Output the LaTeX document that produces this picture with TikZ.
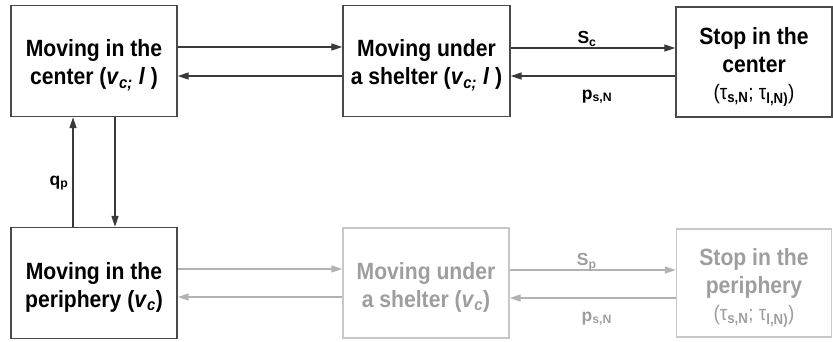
\documentclass[tikz,border=0pt]{standalone}
\usepackage{fontspec}
\setmainfont{Liberation Sans}[FakeStretch=0.9]
\newfontfamily\labelfont{Liberation Sans}
\usetikzlibrary{arrows.meta}

\definecolor{darkline}{HTML}{3A3A3A}
\definecolor{darkframe}{HTML}{4A4A4A}
\definecolor{paleline}{HTML}{B2B2B2}
\definecolor{paletext}{HTML}{9E9E9E}
\definecolor{paleframe}{HTML}{C8C8C8}

% helpers for the small subscripts and the italic speed symbols
\newcommand{\sbs}[1]{\textsubscript{#1}}
\newcommand{\spd}[1]{\textit{v}\textsubscript{\textit{#1}}}
\newcommand{\tauline}[2]{{\fontsize{21}{27}\selectfont\mdseries(τ\sbs{\bfseries #1}; τ\sbs{\bfseries #2})}}

\tikzset{
  state/.style={draw=darkframe, line width=1.4pt, inner sep=0pt},
  pale/.style={draw=paleframe},
  boxtext/.style={align=center, text=black, inner sep=0pt,
    font=\fontsize{23.5}{28}\selectfont\bfseries},
  paletxt/.style={text=paletext},
  flow/.style={-{Triangle[length=11pt,width=7pt]}, draw=darkline, line width=1.2pt},
  paleflow/.style={flow, draw=paleline},
  lbl/.style={font=\labelfont\fontsize{17.5}{20}\selectfont\bfseries, text=black,
    inner sep=0pt, anchor=base},
  palelbl/.style={lbl, text=paletext}
}

\begin{document}
\begin{tikzpicture}[x=1pt, y=-1pt]
\useasboundingbox (0,0) rectangle (833,341);

% upper row: movement in the center
\node[state, minimum width=166pt, minimum height=111pt] (A) at (94,61) {};
\node[state, minimum width=167pt, minimum height=111pt] (B) at (426.5,61) {};
\node[state, minimum width=156pt, minimum height=110pt] (C) at (754,62) {};
\node[boxtext] (At) at ([yshift=-4pt]A.center)
  {Moving in the\\center (\spd{c;} \textit{l} )};
\node[boxtext] (Bt) at ([yshift=-4pt]B.center)
  {Moving under\\a shelter (\spd{c;} \textit{l} )};
\node[boxtext] (Ct) at ([yshift=-5pt]C.center)
  {Stop in the\\center\\[-1pt]\tauline{s,N}{l,N)}};

% lower row: movement in the periphery
\node[state, minimum width=166pt, minimum height=111pt] (D) at (94,283) {};
\node[state, pale, minimum width=166pt, minimum height=110pt] (E) at (426,283) {};
\node[state, pale, minimum width=155pt, minimum height=108pt] (F) at (754,283) {};
\node[boxtext] (Dt) at ([yshift=-4pt]D.center)
  {Moving in the\\periphery (\spd{c})};
\node[boxtext, paletxt] (Et) at ([yshift=-4pt]E.center)
  {Moving under\\a shelter (\spd{c})};
\node[boxtext, paletxt] (Ft) at ([yshift=-5pt]F.center)
  {Stop in the\\periphery\\[-1pt]\tauline{s,N}{l,N)}};

% upper row transitions
\draw[flow] ([yshift=14pt]A.east) -- ([yshift=14pt]A.east -| B.west);
\draw[flow] ([yshift=-15pt]B.west) -- ([yshift=-15pt]B.west -| A.east);
\draw[flow] ([yshift=13pt]B.east) -- ([yshift=13pt]B.east -| C.west)
  node[lbl, midway, yshift=4.5pt, xshift=-6pt] (Sc) {S\sbs{c}};
\draw[flow] ([yshift=-15pt]C.west |- B.east) -- ([yshift=-15pt]B.east)
  node[lbl, midway, yshift=-23pt, xshift=4pt] (pc) {p\sbs{s,N}};

% switching between center and periphery
\draw[flow] ([xshift=-21pt]D.north) -- ([xshift=-21pt]D.north |- A.south)
  node[lbl, pos=0.38, anchor=base east, xshift=-4pt] (qp) {q\sbs{p}};
\draw[flow] ([xshift=21pt]A.south) -- ([xshift=21pt]A.south |- D.north);

% lower row transitions
\draw[paleflow] ([yshift=14pt]D.east) -- ([yshift=14pt]D.east -| E.west);
\draw[paleflow] ([yshift=-14pt]E.west) -- ([yshift=-14pt]E.west -| D.east);
\draw[paleflow] ([yshift=13pt]E.east) -- ([yshift=13pt]E.east -| F.west)
  node[palelbl, midway, yshift=4.5pt, xshift=-6pt] (Sp) {S\sbs{p}};
\draw[paleflow] ([yshift=-15pt]F.west |- E.east) -- ([yshift=-15pt]E.east)
  node[palelbl, midway, yshift=-23pt, xshift=4pt] (pp) {p\sbs{s,N}};
\end{tikzpicture}
\end{document}
